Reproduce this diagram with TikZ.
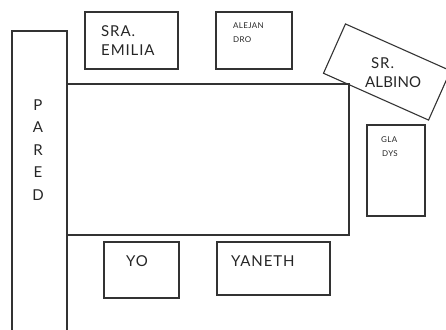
\documentclass[tikz,border=0pt]{standalone}
\usepackage{fontspec}
\setmainfont{Lato}
\begin{document}
\begin{tikzpicture}[x=1pt,y=-1pt,
  box/.style={draw=black!80,line width=1.1pt,inner sep=0pt},
  lbl/.style={inner sep=0pt,anchor=base west,text=black!85},
  big/.style={font=\fontsize{15}{15}\selectfont\addfontfeatures{LetterSpace=6}},
  tiny/.style={font=\fontsize{8}{8}\selectfont\addfontfeatures{LetterSpace=4}}]
\useasboundingbox (0,0) rectangle (446,329);
\clip (0,0) rectangle (446,329);
% wall
\draw[box] (12,31) coordinate (pw1) rectangle (67,340) coordinate (pw2);
\node (pared) [inner sep=0pt,text=black!85,font=\fontsize{15}{15}\selectfont,align=center] at (38,150)
  {P\\[7.5pt]A\\[7.5pt]R\\[7.5pt]E\\[7.5pt]D};
% table
\node (table) [box,minimum width=282pt,minimum height=151pt] at (208,159.5) {};
% chairs
\node (emilia) [box,minimum width=93pt,minimum height=57pt] at (131.5,40.5) {};
\node[lbl,big] (t1) at (101,37) {SRA.};
\node[lbl,big] (t2) at (101,56) {EMILIA};
\node (alej) [box,minimum width=76pt,minimum height=57pt] at (254,40.5) {};
\node[lbl,tiny] (t3) at (233,29) {ALEJAN};
\node[lbl,tiny] (t4) at (233,42) {DRO};
\node (albino) [box,minimum width=115pt,minimum height=54pt,rotate=-24] at (387,72) {};
\node[lbl,big] (t5) at (371,68) {SR.};
\node[lbl,font=\fontsize{15}{15}\selectfont\addfontfeatures{LetterSpace=1}] (t6) at (365,87) {ALBINO};
\node (gladys) [box,minimum width=58pt,minimum height=91pt] at (396,170.5) {};
\node[lbl,tiny] (t7) at (381,142) {GLA};
\node[lbl,tiny] (t8) at (382,156) {DYS};
\node (yo) [box,minimum width=75pt,minimum height=56pt] at (141.5,270) {};
\node[lbl,big] (t9) at (126,266) {YO};
\node (yaneth) [box,minimum width=113pt,minimum height=53pt] at (273.5,268.5) {};
\node[lbl,big] (t10) at (231,266) {YANETH};
\end{tikzpicture}
\end{document}
